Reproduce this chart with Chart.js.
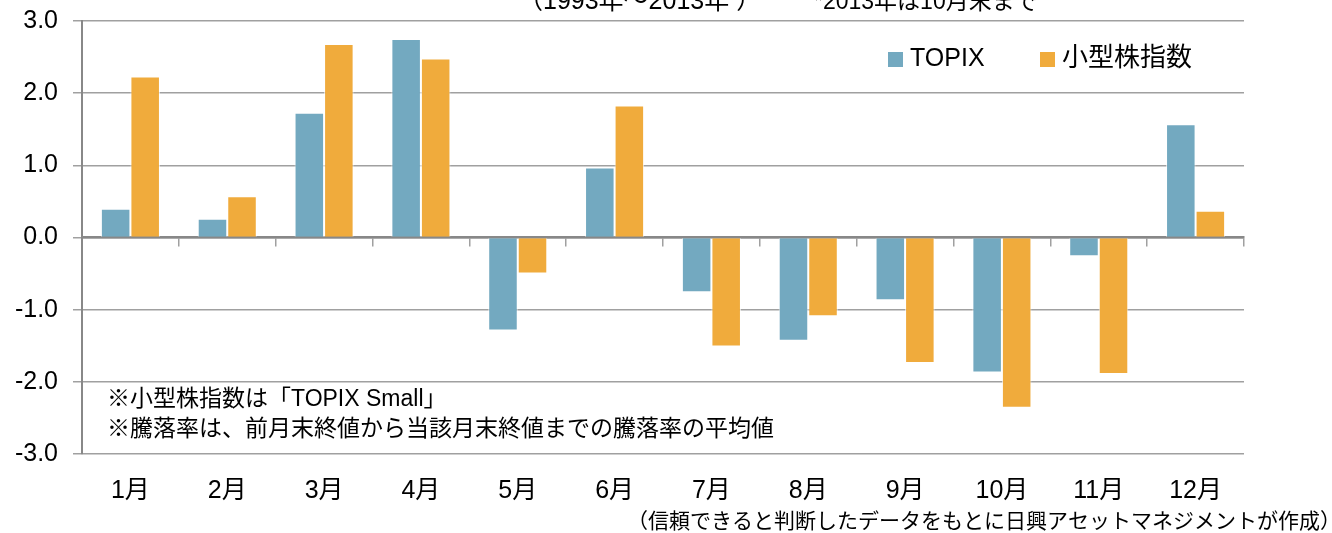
<!DOCTYPE html>
<html>
<head>
<meta charset="utf-8">
<script src="https://cdn.jsdelivr.net/npm/chart.js@4"></script>
<style>
  html, body { margin: 0; padding: 0; background: #fff; }
  #wrap { width: 1332px; height: 533px; }
</style>
</head>
<body>
<div id="wrap"><canvas id="monthChart"></canvas></div>
<script>
    // 月別平均騰落率 (%)
    const months = ['1月', '2月', '3月', '4月', '5月', '6月', '7月', '8月', '9月', '10月', '11月', '12月'];
    const topixValues = [0.40, 0.26, 1.73, 2.75, -1.29, 0.97, -0.76, -1.43, -0.87, -1.87, -0.26, 1.57];
    const smallValues = [2.23, 0.57, 2.68, 2.48, -0.50, 1.83, -1.51, -1.09, -1.74, -2.36, -1.89, 0.37];
    const yTicks = [-3, -2, -1, 0, 1, 2, 3];

    const FONT = "'Liberation Sans', Arial, 'Noto Sans CJK JP', sans-serif";
    const BLUE = '#73a9c0';
    const ORANGE = '#f0ab3c';

    // 注記・凡例・出所などのテキスト
    const textPlugin = {
        id: 'texts',
        afterDraw(chart) {
            const ctx = chart.ctx;
            ctx.save();
            ctx.fillStyle = '#000';
            ctx.textAlign = 'left';

            // 上部 (切れている見出し)
            ctx.font = '25px ' + FONT;
            ctx.textBaseline = 'alphabetic';
            ctx.fillText('（1993年～2013年 ）', 518, 9);
            ctx.font = '23px ' + FONT;
            ctx.fillText('*2013年は10月末まで', 814, 9);

            // 凡例
            ctx.textBaseline = 'middle';
            const legend = [
                { label: chart.data.datasets[0].label, color: BLUE, x: 888 },
                { label: chart.data.datasets[1].label, color: ORANGE, x: 1040 }
            ];
            legend.forEach((item) => {
                ctx.fillStyle = item.color;
                ctx.fillRect(item.x, 52, 15, 15);
                ctx.fillStyle = '#000';
                ctx.font = '25px ' + FONT;
                if (item.label !== 'TOPIX') ctx.font = '26px ' + FONT;
                ctx.fillText(item.label, item.x + 22, 59);
            });

            // 注記
            ctx.font = '23px ' + FONT;
            ctx.fillText('※小型株指数は「TOPIX Small」', 107, 400);
            ctx.fillText('※騰落率は、前月末終値から当該月末終値までの騰落率の平均値', 107, 430);

            // 出所
            ctx.textAlign = 'right';
            ctx.font = '21px ' + FONT;
            ctx.fillText('（信頼できると判断したデータをもとに日興アセットマネジメントが作成）', 1341, 522);
            ctx.restore();
        }
    };

    const ctx = document.getElementById('monthChart').getContext('2d');
    const chart = new Chart(ctx, {
        type: 'bar',
        data: {
            labels: months,
            datasets: [{
                label: 'TOPIX',
                data: topixValues,
                backgroundColor: BLUE,
                borderColor: 'rgba(255,255,255,0.7)',
                borderWidth: 1
            }, {
                label: '小型株指数',
                data: smallValues,
                backgroundColor: ORANGE,
                borderColor: 'rgba(255,255,255,0.7)',
                borderWidth: 1
            }]
        },
        options: {
            responsive: true,
            maintainAspectRatio: false,
            animation: false,
            devicePixelRatio: 1,
            layout: {
                padding: { top: 21, right: 88, bottom: 0, left: 0 }
            },
            datasets: {
                bar: {
                    categoryPercentage: 0.61,
                    barPercentage: 1.0
                }
            },
            scales: {
                x: {
                    type: 'category',
                    position: 'bottom',
                    grid: { display: false, drawTicks: false },
                    border: { display: false },
                    ticks: {
                        color: '#000',
                        font: { family: FONT, size: 25 },
                        padding: 22,
                        maxRotation: 0,
                        autoSkip: false
                    },
                    afterFit: (scale) => {
                        scale.height = 79;
                        scale.paddingLeft = 0;
                        scale.paddingRight = 0;
                    }
                },
                x2: {
                    type: 'category',
                    axis: 'x',
                    position: { y: 0 },
                    grid: {
                        offset: true,
                        drawOnChartArea: false,
                        drawTicks: true,
                        tickLength: 8,
                        color: '#a0a0a0',
                        lineWidth: 1.5
                    },
                    border: { display: true, color: '#888', width: 2.5 },
                    ticks: { display: false },
                    afterFit: (scale) => {
                        scale.paddingLeft = 0;
                        scale.paddingRight = 0;
                    }
                },
                y: {
                    min: -3,
                    max: 3,
                    afterBuildTicks: (scale) => {
                        scale.ticks = yTicks.map((v) => ({ value: v }));
                    },
                    grid: {
                        color: '#a0a0a0',
                        lineWidth: 1.5,
                        tickLength: 9
                    },
                    border: { display: true, color: '#888', width: 2 },
                    ticks: {
                        color: '#000',
                        font: { family: FONT, size: 25 },
                        padding: 15,
                        callback: (v) => Number(v).toFixed(1)
                    },
                    afterFit: (scale) => {
                        scale.width = 82;
                        scale.paddingTop = 0;
                        scale.paddingBottom = 0;
                    }
                }
            },
            plugins: {
                legend: { display: false },
                tooltip: { enabled: false }
            }
        },
        plugins: [textPlugin]
    });
</script>
</body>
</html>
